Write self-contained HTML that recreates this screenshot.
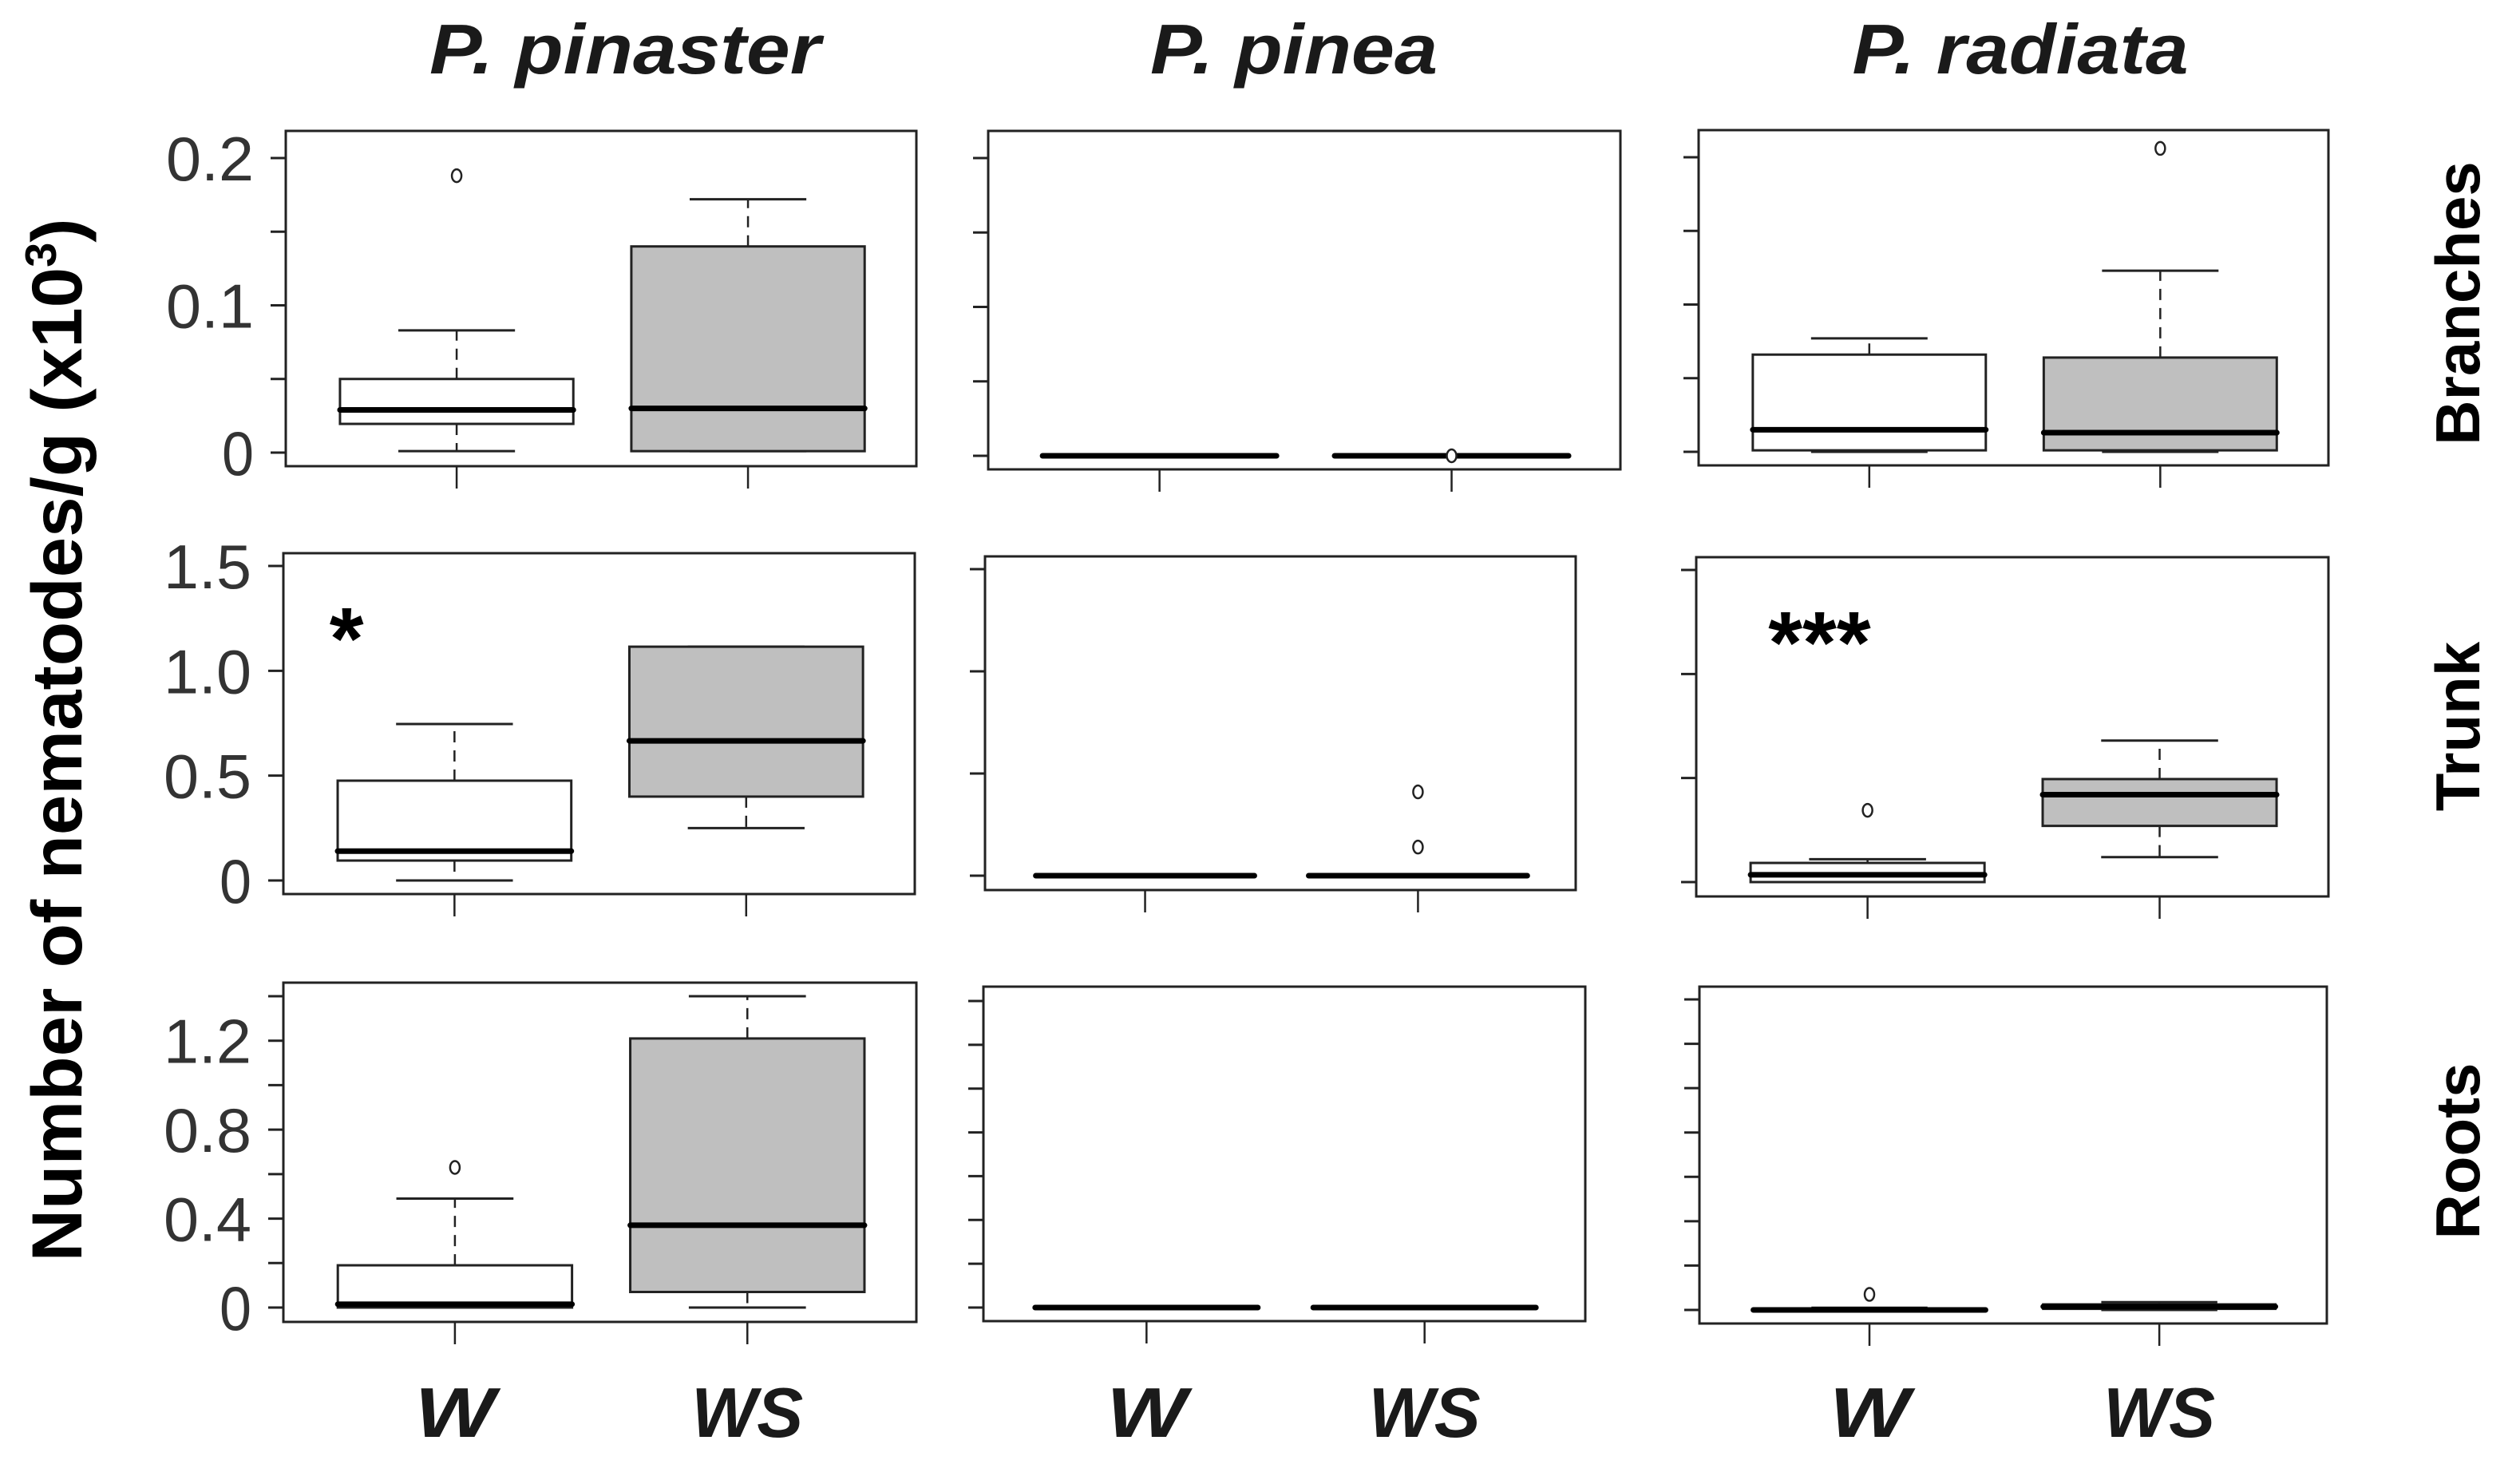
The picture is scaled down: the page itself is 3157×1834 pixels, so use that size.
<!DOCTYPE html>
<html><head><meta charset="utf-8">
<style>
html,body{margin:0;padding:0;background:#fff;}
svg{display:block;}
</style></head>
<body>
<svg id="chart" width="3157" height="1834" viewBox="0 0 3157 1834" xmlns="http://www.w3.org/2000/svg" font-family="'Liberation Sans', sans-serif">
  <rect x="0" y="0" width="3157" height="1834" fill="#fff"/>
  <text transform="translate(102,927) rotate(-90)" text-anchor="middle" font-size="89" font-weight="bold" fill="#000" textLength="1307" lengthAdjust="spacingAndGlyphs">Number of nematodes/g (x10<tspan font-size="55" dy="-32">3</tspan><tspan dy="32">)</tspan></text>
  <g id="plots"></g>
</svg>
<script>
// Species (columns), tissues (rows), groups
const species = ["P. pinaster", "P. pinea", "P. radiata"];
const tissues = ["Branches", "Trunk", "Roots"];
const groups = ["W", "WS"];
// Five-number summaries [min, q1, median, q3, max] for W then WS, per panel (row-major: tissue, species)
const branchesW = [[0.001,0.0195,0.029,0.05,0.083],[0,0,0,0,0],[0,0.001,0.015,0.066,0.077]];
const branchesWS = [[0.001,0.001,0.030,0.14,0.172],[0,0,0,0,0],[0,0.001,0.013,0.064,0.123]];
const trunkW = [[0,0.095,0.14,0.476,0.746],[0,0,0,0,0],[0,0,0.035,0.092,0.11]];
const trunkWS = [[0.25,0.40,0.666,1.115,1.115],[0,0,0,0,0],[0.12,0.27,0.42,0.495,0.68]];
const rootsW = [[0,0,0.015,0.19,0.49],[0,0,0,0,0],[0,0,0,0.005,0.01]];
const rootsWS = [[0,0.07,0.37,1.21,1.4],[0,0,0,0,0],[0,0.005,0.015,0.025,0.035]];
// Outliers
const branchesOutW = [[0.188],[],[]];
const branchesOutWS = [[],[0],[0.206]];
const trunkOutW = [[],[],[0.345]];
const trunkOutWS = [[],[0.41,0.14],[]];
const rootsOutW = [[0.63],[],[0.07]];
const rootsOutWS = [[],[],[]];
// Axis ticks
const branchesTicks = [0,0.05,0.1,0.15,0.2];
const branchesTickLabels = ["0","","0.1","","0.2"];
const trunkTicks = [0,0.5,1.0,1.5];
const trunkTickLabels = ["0","0.5","1.0","1.5"];
const rootsTicks = [0,0.2,0.4,0.6,0.8,1.0,1.2,1.4];
const rootsTickLabels = ["0","","0.4","","0.8","","1.2",""];
const significance = [["","",""],["*","","***"],["","",""]];

const NS = "http://www.w3.org/2000/svg";
const root = document.getElementById("plots");
function mk(tag, attrs, parent){
  const e = document.createElementNS(NS, tag);
  for (const k in attrs) e.setAttribute(k, attrs[k]);
  (parent||root).appendChild(e);
  return e;
}
// panel layout: [left,right,top,bottom, y of value 0, y of top tick]
const panels = [
  [[358,1148,164,584,567,198],[1238,2030,164,588,571,198],[2128,2917,163,583,566,197]],
  [[355,1146,693,1120,1103,709],[1234,1974,697,1115,1097,713],[2125,2917,698,1123,1105,714]],
  [[355,1148,1231,1656,1638,1248],[1232,1986,1236,1655,1638,1254],[2129,2915,1236,1658,1641,1252]]
];
const rowData = [
  {W:branchesW, WS:branchesWS, oW:branchesOutW, oWS:branchesOutWS, ticks:branchesTicks, labels:branchesTickLabels},
  {W:trunkW, WS:trunkWS, oW:trunkOutW, oWS:trunkOutWS, ticks:trunkTicks, labels:trunkTickLabels},
  {W:rootsW, WS:rootsWS, oW:rootsOutW, oWS:rootsOutWS, ticks:rootsTicks, labels:rootsTickLabels}
];
const titleX = [783, 1621, 2531];
const titleLen = [490, 360, 421];

for (let c=0;c<3;c++){
  const t = mk("text",{x:titleX[c], y:92, "text-anchor":"middle", "font-size":"88", "font-weight":"bold", "font-style":"italic", fill:"#1a1a1a", textLength:titleLen[c], lengthAdjust:"spacingAndGlyphs"});
  
  
  t.textContent = species[c];
}
const rowLabelY = [380, 910, 1442];
for (let r=0;r<3;r++){
  const t = mk("text",{transform:`translate(3106,${rowLabelY[r]}) rotate(-90)`, "text-anchor":"middle", "font-size":"78", "font-weight":"bold", fill:"#000"});
  
  
  t.textContent = tissues[r];
}

for (let r=0;r<3;r++){
  const rd = rowData[r];
  const maxT = rd.ticks[rd.ticks.length-1];
  for (let c=0;c<3;c++){
    const [L,R,T,B,y0,yT] = panels[r][c];
    const yScale = v => y0 + (yT - y0) * v / maxT;
    const xScale = i => L + (R-L) * (i===0 ? 0.271 : 0.733);
    const bw = (R-L)*0.37;
    const g = mk("g",{});
    
    
    const frame = mk("rect",{x:L,y:T,width:R-L,height:B-T,fill:"none",stroke:"#222","stroke-width":3},g);
    
    
    // y ticks
    rd.ticks.forEach((v,i)=>{
      const y = yScale(v);
      const tk = mk("line",{x1:L-19,x2:L,y1:y,y2:y,stroke:"#222","stroke-width":3},g);
      
      
      if (c===0 && rd.labels[i]!==""){
        const s = rd.labels[i];
        const len = s.length===1 ? 40 : 110;
        const lb = mk("text",{x:L-40,y:y+28,"text-anchor":"end","font-size":"78",fill:"#333",textLength:len,lengthAdjust:"spacingAndGlyphs"},g);
        
        
        lb.textContent = s;
      }
    });
    // x ticks
    for (let i=0;i<2;i++){
      const x = xScale(i);
      const xt = mk("line",{x1:x,x2:x,y1:B,y2:B+28,stroke:"#222","stroke-width":2.5},g);
      
      
    }
    // boxes
    [rd.W[c], rd.WS[c]].forEach((s,i)=>{
      const x = xScale(i);
      const fill = i===0 ? "#fff" : "#bfbfbf";
      const [mn,q1,md,q3,mx] = s.map(yScale);
      const bg = mk("g",{},g);
      
      
      mk("line",{x1:x,x2:x,y1:q3,y2:mx,stroke:"#222","stroke-width":2.5,"stroke-dasharray":"14,10"},bg);
      mk("line",{x1:x,x2:x,y1:q1,y2:mn,stroke:"#222","stroke-width":2.5,"stroke-dasharray":"14,10"},bg);
      mk("line",{x1:x-bw/4,x2:x+bw/4,y1:mx,y2:mx,stroke:"#222","stroke-width":3},bg);
      mk("line",{x1:x-bw/4,x2:x+bw/4,y1:mn,y2:mn,stroke:"#222","stroke-width":3},bg);
      mk("rect",{x:x-bw/2,y:q3,width:bw,height:Math.max(0,q1-q3),fill:fill,stroke:"#222","stroke-width":3},bg);
      mk("line",{x1:x-bw/2,x2:x+bw/2,y1:md,y2:md,stroke:"#000","stroke-width":7,"stroke-linecap":"round"},bg);
    });
    // outliers
    [rd.oW[c], rd.oWS[c]].forEach((arr,i)=>{
      arr.forEach(v=>{
        const o = mk("ellipse",{cx:xScale(i),cy:yScale(v),rx:6,ry:8,fill:"#fff",stroke:"#222","stroke-width":2.5},g);
        
        
      });
    });
    // significance
    if (significance[r][c]){
      const s = mk("text",{x:L+(R-L)*(c===0?0.1:0.195),y:T+145,"text-anchor":"middle","font-size":"110","font-weight":"bold",fill:"#000"},g);
      
      
      s.textContent = significance[r][c];
    }
    // group labels under bottom row
    if (r===2){
      for (let i=0;i<2;i++){
        const gl = mk("text",{x:xScale(i),y:1800,"text-anchor":"middle","font-size":"88","font-weight":"bold","font-style":"italic",fill:"#1a1a1a",textLength:i===0?100:140,lengthAdjust:"spacingAndGlyphs"},g);
        
        
        gl.textContent = groups[i];
      }
    }
  }
}
</script>
</body></html>
